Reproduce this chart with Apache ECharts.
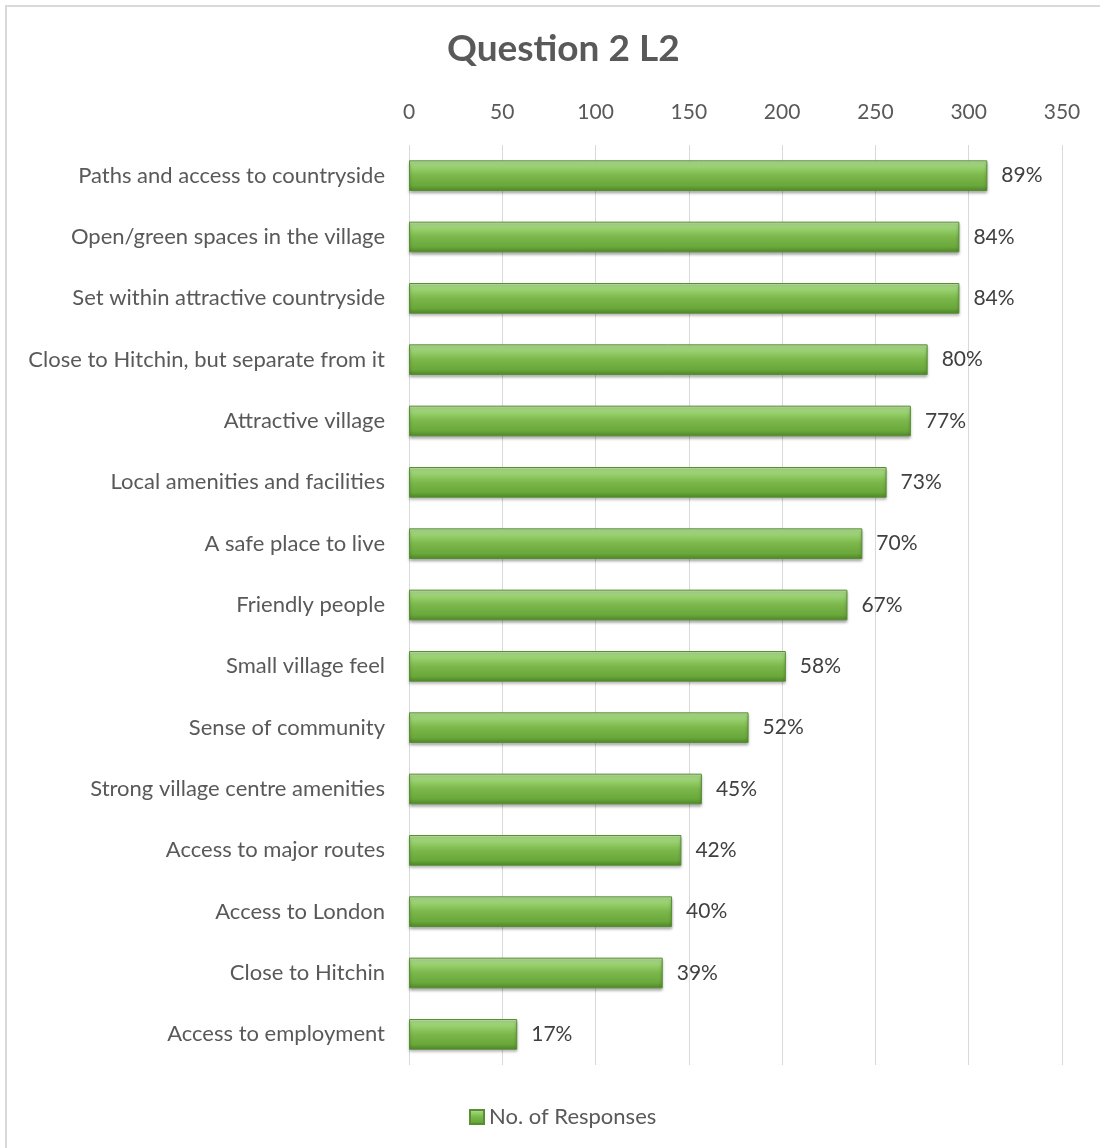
<!DOCTYPE html>
<html>
<head>
<meta charset="utf-8">
<script src="https://cdn.jsdelivr.net/npm/echarts@6/dist/echarts.min.js"></script>
<style>
html,body{margin:0;padding:0;background:#fff;overflow:hidden;}
#frame{position:absolute;left:5px;top:5px;width:1120px;height:1170px;border:2px solid #d9d9d9;box-sizing:border-box;}
#chart{position:absolute;left:0;top:0;width:1100px;height:1148px;}
</style>
</head>
<body>
<div id="frame"></div>
<div id="chart"></div>
<script>
const categories = [
  "Paths and access to countryside",
  "Open/green spaces in the village",
  "Set within attractive countryside",
  "Close to Hitchin, but separate from it",
  "Attractive village",
  "Local amenities and facilities",
  "A safe place to live",
  "Friendly people",
  "Small village feel",
  "Sense of community",
  "Strong village centre amenities",
  "Access to major routes",
  "Access to London",
  "Close to Hitchin",
  "Access to employment"
];
const responses = [310, 295, 295, 278, 269, 256, 243, 235, 202, 182, 157, 146, 141, 136, 58];
const percentLabels = ["89%","84%","84%","80%","77%","73%","70%","67%","58%","52%","45%","42%","40%","39%","17%"];
const xTicks = { min: 0, max: 350, interval: 50 };

const barGradient = new echarts.graphic.LinearGradient(0, 0, 0, 1, [
  {offset: 0, color: '#c2eaa8'},
  {offset: 0.18, color: '#9cd474'},
  {offset: 0.5, color: '#7bb74a'},
  {offset: 0.82, color: '#6aa83b'},
  {offset: 1, color: '#4d8628'}
]);

const chart = echarts.init(document.getElementById('chart'));
const font = 'Lato, "Open Sans", sans-serif';
chart.setOption({
  animation: false,
  textStyle: {fontFamily: font},
  title: {
    text: 'Question 2 L2',
    left: 442,
    top: 26,
    textStyle: {fontFamily: font, fontSize: 37, fontWeight: 'bold', color: '#595959'}
  },
  legend: {
    bottom: 15,
    left: 464,
    itemWidth: 14,
    itemHeight: 14,
    itemGap: 6,
    textStyle: {fontFamily: font, fontSize: 22, color: '#595959'},
    data: [{name: 'No. of Responses', icon: 'rect'}]
  },
  grid: {left: 409, right: 38, top: 145, bottom: 83, containLabel: false},
  xAxis: {
    type: 'value',
    position: 'top',
    min: xTicks.min, max: xTicks.max, interval: xTicks.interval,
    axisLine: {show: false},
    axisTick: {show: false},
    axisLabel: {fontFamily: font, fontSize: 21, color: '#595959', margin: 22},
    splitLine: {show: true, lineStyle: {color: '#d9d9d9', width: 1}}
  },
  yAxis: {
    type: 'category',
    inverse: true,
    data: categories,
    axisLine: {show: false},
    axisTick: {show: false},
    axisLabel: {fontFamily: font, fontSize: 22, color: '#595959', margin: 24}
  },
  series: [{
    name: 'No. of Responses',
    type: 'bar',
    data: responses,
    barWidth: '50%',
    itemStyle: {
      color: barGradient,
      borderColor: '#588f33',
      borderWidth: 1,
      shadowColor: 'rgba(0,0,0,0.35)',
      shadowBlur: 3,
      shadowOffsetY: 2
    },
    label: {
      show: true,
      position: 'right',
      distance: 14,
      fontFamily: font,
      fontSize: 21,
      color: '#404040',
      formatter: p => percentLabels[p.dataIndex]
    }
  }]
});
</script>
</body>
</html>
